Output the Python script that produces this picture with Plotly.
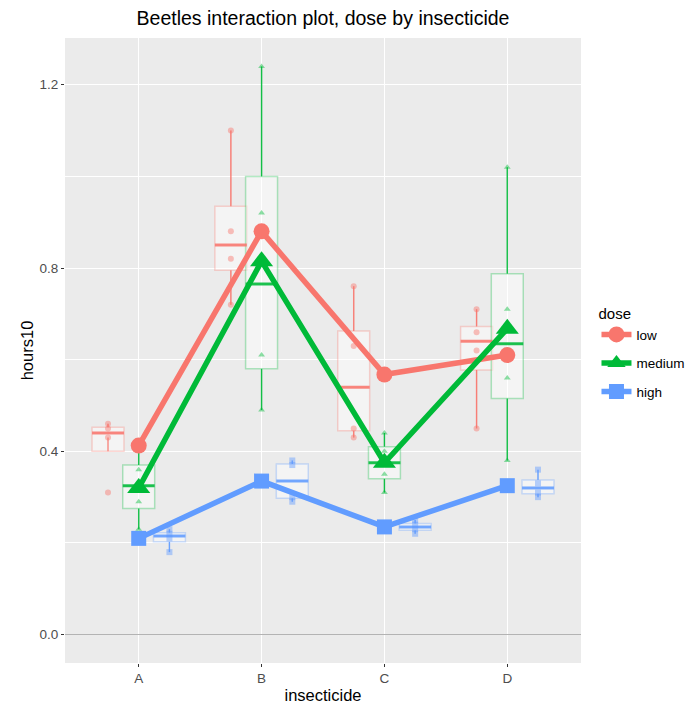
import numpy as np
import plotly.graph_objects as go

# Beetle survival times (units of 10 hours) by insecticide and dose
insecticides = ["A", "B", "C", "D"]
doses = ["low", "medium", "high"]

hours_low = {
    "A": [0.31, 0.45, 0.46, 0.43],
    "B": [0.82, 1.10, 0.88, 0.72],
    "C": [0.43, 0.45, 0.63, 0.76],
    "D": [0.45, 0.71, 0.66, 0.62],
}
hours_medium = {
    "A": [0.36, 0.29, 0.40, 0.23],
    "B": [0.92, 0.61, 0.49, 1.24],
    "C": [0.44, 0.35, 0.31, 0.40],
    "D": [0.56, 1.02, 0.71, 0.38],
}
hours_high = {
    "A": [0.22, 0.21, 0.18, 0.23],
    "B": [0.30, 0.37, 0.38, 0.29],
    "C": [0.23, 0.25, 0.24, 0.22],
    "D": [0.30, 0.36, 0.31, 0.33],
}
y_ticks = [0.0, 0.4, 0.8, 1.2]

hours = {"low": hours_low, "medium": hours_medium, "high": hours_high}
colors = {"low": (248, 118, 109), "medium": (0, 186, 56), "high": (97, 156, 255)}
symbols = {"low": "circle", "medium": "triangle-up", "high": "square"}
mean_sizes = {"low": 16, "medium": 20, "high": 15}
dodge = {"low": -0.25, "medium": 0.0, "high": 0.25}
box_w = 0.26


def rgba(c, a):
    return f"rgba({c[0]},{c[1]},{c[2]},{a})"


def box_stats(v):
    v = np.asarray(v, dtype=float)
    q1, med, q3 = np.percentile(v, [25, 50, 75])
    iqr = q3 - q1
    inside = v[(v >= q1 - 1.5 * iqr) & (v <= q3 + 1.5 * iqr)]
    return q1, med, q3, inside.min(), inside.max()


FONT = "Liberation Sans, Arial, Helvetica, sans-serif"
fig = go.Figure()

# Boxplots, whiskers, medians and raw points, dodged by dose
for d in doses:
    col = colors[d]
    wx, wy, mx, my, px, py = [], [], [], [], [], []
    for i, ins in enumerate(insecticides, start=1):
        vals = hours[d][ins]
        pos = i + dodge[d]
        q1, med, q3, lo, hi = box_stats(vals)
        fig.add_trace(go.Box(
            x=[pos], q1=[q1], median=[med], q3=[q3],
            lowerfence=[lo], upperfence=[hi],
            width=box_w, whiskerwidth=0, boxpoints=False,
            fillcolor="rgba(255,255,255,0.45)",
            line=dict(color=rgba(col, 0.3), width=1.5),
            showlegend=False, hoverinfo="skip",
        ))
        wx += [pos, pos, None, pos, pos, None]
        wy += [q3, hi, None, q1, lo, None]
        mx += [pos - box_w / 2, pos + box_w / 2, None]
        my += [med, med, None]
        px += [pos] * len(vals)
        py += list(vals)
    fig.add_trace(go.Scatter(x=wx, y=wy, mode="lines",
                             line=dict(color=rgba(col, 0.9), width=1.3),
                             showlegend=False, hoverinfo="skip"))
    fig.add_trace(go.Scatter(x=mx, y=my, mode="lines",
                             line=dict(color=rgba(col, 0.85), width=3),
                             showlegend=False, hoverinfo="skip"))
    fig.add_trace(go.Scatter(x=px, y=py, mode="markers",
                             marker=dict(color=rgba(col, 0.45), size=6,
                                         symbol=symbols[d], line=dict(width=0)),
                             showlegend=False, hoverinfo="skip"))

# Dose means joined across insecticides
for d in doses:
    col = colors[d]
    means = [float(np.mean(hours[d][ins])) for ins in insecticides]
    fig.add_trace(go.Scatter(
        x=list(range(1, len(insecticides) + 1)), y=means,
        mode="lines+markers", name=d, legendgroup=d,
        line=dict(color=rgba(col, 1), width=5.5),
        marker=dict(color=rgba(col, 1), size=mean_sizes[d], symbol=symbols[d],
                    line=dict(width=0)),
    ))

fig.update_layout(
    width=699, height=704,
    margin=dict(l=65, r=118, t=38, b=41, autoexpand=False),
    paper_bgcolor="white", plot_bgcolor="#EBEBEB",
    font=dict(family=FONT, size=12, color="black"),
    boxmode="overlay",
    title=dict(text="Beetles interaction plot, dose by insecticide",
               x=0.5, xref="paper", xanchor="center",
               y=1 - 18 / 704, yref="container", yanchor="middle",
               font=dict(size=19.5, color="black")),
    legend=dict(title=dict(text="dose", font=dict(size=15)),
                x=1.03, xanchor="left", y=0.495, yanchor="middle",
                font=dict(size=13.5), itemwidth=30,
                bgcolor="rgba(0,0,0,0)", tracegroupgap=8),
    showlegend=True,
)

fig.update_xaxes(
    range=[0.4, 4.6], tickmode="array",
    tickvals=list(range(1, len(insecticides) + 1)), ticktext=insecticides,
    showgrid=True, gridcolor="white", gridwidth=1.1, zeroline=False,
    ticks="outside", ticklen=3, tickcolor="#333333", tickwidth=1,
    tickfont=dict(size=13.5, color="#4D4D4D"),
    title=dict(text="insecticide", font=dict(size=16.5), standoff=7),
    showline=False, automargin=False,
)
fig.update_yaxes(
    range=[-0.062, 1.302], tickmode="array", tickvals=y_ticks,
    tickformat=".1f",
    showgrid=True, gridcolor="white", gridwidth=1.1,
    minor=dict(tickmode="array", tickvals=[0.2, 0.6, 1.0], showgrid=True,
               gridcolor="white", gridwidth=0.5, ticks=""),
    zeroline=True, zerolinecolor="#B3B3B3", zerolinewidth=1,
    ticks="outside", ticklen=3, tickcolor="#333333", tickwidth=1,
    tickfont=dict(size=13.5, color="#4D4D4D"),
    title=dict(text="hours10", font=dict(size=16.5), standoff=1),
    showline=False, automargin=False,
)

fig.write_html("out.html")
